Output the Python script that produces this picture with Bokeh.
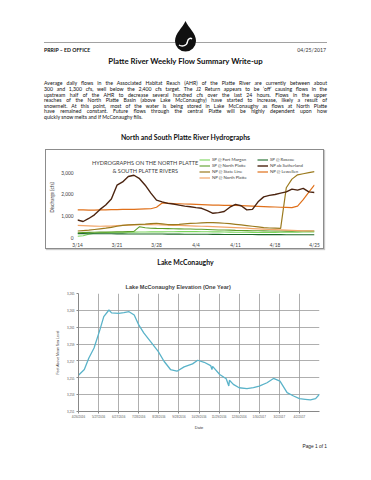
import pandas as pd
from bokeh.plotting import figure
from bokeh.models import (Div, Range1d, FixedTicker, NumeralTickFormatter, Legend,
                          LegendItem, Label, Spacer)
from bokeh.layouts import column, row
from bokeh.embed import file_html
from bokeh.resources import INLINE

# ---------------- data: hydrographs ----------------
hydro_dates = ["3/14", "3/15", "3/16", "3/17", "3/18", "3/19", "3/20", "3/21", "3/22", "3/23",
               "3/24", "3/25", "3/26", "3/27", "3/28", "3/29", "3/30", "3/31", "4/1", "4/2",
               "4/3", "4/4", "4/5", "4/6", "4/7", "4/8", "4/9", "4/10", "4/11", "4/12",
               "4/13", "4/14", "4/15", "4/16", "4/17", "4/18", "4/19", "4/20", "4/21", "4/22",
               "4/23", "4/24", "4/25"]
hydro_ticks = ["3/14", "3/21", "3/28", "4/4", "4/11", "4/18", "4/25"]
hydro_y_ticks = [0, 1000, 2000, 3000]

sp_fort_morgan = [60, 80, 150, 200, 220, 230, 235, 240, 245, 250,
                  250, 255, 255, 260, 260, 260, 265, 265, 270, 270,
                  270, 270, 265, 265, 260, 260, 255, 250, 245, 240,
                  240, 235, 230, 230, 230, 235, 240, 245, 250, 250,
                  255, 260, 260]
sp_roscoe = [180, 178, 175, 175, 172, 170, 170, 168, 168, 165,
             165, 165, 162, 160, 160, 160, 158, 155, 155, 152,
             150, 150, 148, 148, 145, 145, 142, 140, 140, 140,
             138, 138, 135, 135, 135, 132, 132, 130, 130, 130,
             128, 128, 128]
sp_north_platte = [220, 230, 235, 240, 250, 250, 255, 260, 260, 270,
                   280, 500, 450, 430, 420, 415, 410, 405, 400, 395,
                   390, 385, 380, 370, 360, 350, 345, 340, 330, 325,
                   320, 315, 310, 305, 300, 300, 300, 295, 295, 300,
                   300, 300, 300]
np_ab_sutherland = [810, 740, 880, 1050, 1300, 1500, 1780, 2420, 2570, 2820,
                    2880, 2720, 2420, 2050, 1730, 1650, 1580, 1550, 1500, 1450,
                    1420, 1380, 1350, 1240, 1120, 1150, 1200, 1400, 1530, 1470,
                    1280, 1300, 1650, 1880, 1950, 1990, 2050, 2110, 2240, 2190,
                    2270, 2110, 2080]
np_state_line = [300, 320, 340, 370, 400, 430, 470, 520, 560, 580,
                 600, 610, 620, 640, 660, 630, 600, 600, 610, 630,
                 650, 660, 680, 690, 690, 680, 660, 640, 610, 580,
                 550, 520, 490, 460, 440, 430, 420, 2300, 2700, 2900,
                 2950, 3000, 3050]
np_lewellen = [1280, 1280, 1270, 1270, 1280, 1280, 1290, 1290, 1300, 1300,
               1300, 1310, 1320, 1330, 1400, 1600, 1590, 1570, 1560, 1550,
               1540, 1530, 1520, 1510, 1500, 1500, 1490, 1490, 1480, 1470,
               1460, 1450, 1440, 1430, 1420, 1410, 1400, 1390, 1380, 1450,
               1750, 2100, 2430]
np_north_platte = [560, 550, 540, 530, 520, 525, 530, 545, 560, 570,
                   580, 590, 600, 600, 590, 580, 570, 565, 560, 550,
                   540, 530, 520, 510, 500, 490, 480, 470, 460, 445,
                   430, 415, 400, 385, 370, 360, 350, 340, 330, 320,
                   310, 305, 300]

# ---------------- data: Lake McConaughy ----------------
mc_dates = ["2016-04-26", "2016-05-05", "2016-05-12", "2016-05-20", "2016-05-29",
            "2016-06-04", "2016-06-12", "2016-06-16", "2016-06-27", "2016-07-05",
            "2016-07-13", "2016-07-21", "2016-07-28", "2016-08-05", "2016-08-15",
            "2016-08-27", "2016-09-05", "2016-09-15", "2016-09-25", "2016-10-06",
            "2016-10-19", "2016-10-27", "2016-11-06", "2016-11-16", "2016-11-18",
            "2016-11-19", "2016-11-30", "2016-12-10", "2016-12-14", "2016-12-15",
            "2016-12-21", "2016-12-30", "2017-01-11", "2017-01-21", "2017-01-30",
            "2017-02-11", "2017-02-21", "2017-03-03", "2017-03-14", "2017-03-24",
            "2017-04-02", "2017-04-11", "2017-04-19", "2017-04-27", "2017-05-03"]
mc_elev = [3255.31, 3255.98, 3257.35, 3258.53, 3260.69,
           3262.25, 3263.04, 3262.70, 3262.65, 3262.73,
           3262.84, 3262.45, 3261.27, 3260.29, 3259.31,
           3258.14, 3256.96, 3255.98, 3255.78, 3256.29,
           3256.65, 3257.08, 3256.84, 3256.45, 3255.98,
           3256.35, 3255.39, 3254.88, 3254.02, 3254.70,
           3254.22, 3253.82, 3253.71, 3253.82, 3254.02,
           3254.41, 3254.92, 3254.61, 3253.24, 3252.84,
           3252.53, 3252.45, 3252.37, 3252.53, 3253.04]
mc_tick_labels = ["4/26/2016", "5/27/2016", "6/27/2016", "7/28/2016", "8/28/2016",
                  "9/28/2016", "10/29/2016", "11/29/2016", "12/30/2016", "1/30/2017",
                  "3/2/2017", "4/2/2017"]
mc_y_ticks = [3251, 3253, 3255, 3257, 3259, 3261, 3263, 3265]
mc_start = "2016-04-26"
mc_end = "2017-05-03"

FONT = "Lato"

# ---------------- hydrograph figure ----------------
hx = list(range(len(hydro_dates)))
p1 = figure(width=279, height=100, x_range=Range1d(0, len(hydro_dates) - 1),
            y_range=Range1d(0, 3700), output_backend="svg", toolbar_location=None,
            title=None,
            min_border_left=30, min_border_right=11, min_border_top=7, min_border_bottom=13)
p1.styles = {"border": "1px solid #8c8c8c", "box-shadow": "1px 1px 1px #c8c8c8"}
p1.xgrid.visible = False
p1.ygrid.visible = False
p1.outline_line_color = None
for ax in (p1.xaxis[0], p1.yaxis[0]):
    ax.axis_line_color = None
    ax.major_tick_line_color = None
    ax.minor_tick_line_color = None
    ax.major_tick_out = 0
    ax.major_tick_in = 0
    ax.minor_tick_out = 0
    ax.minor_tick_in = 0
    ax.major_label_text_font = FONT
    ax.major_label_text_font_size = "4.8px"
    ax.major_label_text_color = "#404040"
    ax.major_label_standoff = 4
p1.xaxis.ticker = FixedTicker(ticks=[hydro_dates.index(t) for t in hydro_ticks])
p1.xaxis.major_label_overrides = {hydro_dates.index(t): t for t in hydro_ticks}
p1.yaxis.ticker = FixedTicker(ticks=hydro_y_ticks)
p1.yaxis.formatter = NumeralTickFormatter(format="0,0")
p1.yaxis.axis_label = "Discharge (cfs)"
p1.yaxis.axis_label_text_font = FONT
p1.yaxis.axis_label_text_font_size = "4.8px"
p1.yaxis.axis_label_text_font_style = "normal"
p1.yaxis.axis_label_text_color = "#404040"
p1.yaxis.axis_label_standoff = 3

series = [
    ("SP @ Fort Morgan", sp_fort_morgan, "#7ad65c", 1.1),
    ("SP @ Roscoe", sp_roscoe, "#1c6a28", 1.1),
    ("SP @ North Platte", sp_north_platte, "#5c9e2a", 1.1),
    ("NP @ North Platte", np_north_platte, "#f2a66a", 1.2),
    ("NP @ State Line", np_state_line, "#9b7a1e", 1.2),
    ("NP @ Lewellen", np_lewellen, "#e0701a", 1.2),
    ("NP ab Sutherland", np_ab_sutherland, "#4b2410", 1.4),
]
rends = {}
for name, vals, col, w in series:
    rends[name] = p1.line(hx, vals, line_color=col, line_width=w)

legend_order = ["SP @ Fort Morgan", "SP @ North Platte", "NP @ State Line", "NP @ North Platte",
                "SP @ Roscoe", "NP ab Sutherland", "NP @ Lewellen"]
legend = Legend(items=[LegendItem(label=n, renderers=[rends[n]]) for n in legend_order],
                location="top_right", orientation="vertical", nrows=4,
                label_text_font=FONT, label_text_font_size="4.3px", label_text_color="#404040",
                label_height=5, glyph_height=5, glyph_width=11, label_width=44,
                spacing=1, padding=0, margin=0, label_standoff=2,
                background_fill_alpha=0, border_line_color=None)
p1.add_layout(legend)

p1.add_layout(Label(x=12, y=3470, text="HYDROGRAPHS ON THE NORTH PLATTE",
                    text_align="center", text_baseline="middle", text_font=FONT,
                    text_font_size="5.6px", text_color="#404040"))
p1.add_layout(Label(x=12, y=3100, text="& SOUTH PLATTE RIVERS",
                    text_align="center", text_baseline="middle", text_font=FONT,
                    text_font_size="5.6px", text_color="#404040"))

# ---------------- Lake McConaughy figure ----------------
start = pd.Timestamp(mc_start)
mc_x = [(pd.Timestamp(d) - start).days for d in mc_dates]
mc_tick_pos = [(pd.to_datetime(t, format="%m/%d/%Y") - start).days for t in mc_tick_labels]
mc_xend = (pd.Timestamp(mc_end) - start).days

p2 = figure(width=355, height=158, x_range=Range1d(0, mc_xend),
            y_range=Range1d(mc_y_ticks[0], mc_y_ticks[-1]),
            output_backend="svg", toolbar_location=None,
            min_border_left=70, min_border_right=44, min_border_top=19, min_border_bottom=20,
            title="Lake McConaughy Elevation (One Year)")
p2.title.text_font = "Liberation Sans"
p2.title.text_font_size = "5.6px"
p2.title.text_font_style = "bold"
p2.title.align = "left"
p2.title.offset = 47
p2.title.standoff = 7
p2.outline_line_color = None
p2.xaxis.ticker = FixedTicker(ticks=mc_tick_pos)
p2.xaxis.major_label_overrides = {pos: lab for pos, lab in zip(mc_tick_pos, mc_tick_labels)}
p2.yaxis.ticker = FixedTicker(ticks=mc_y_ticks)
p2.yaxis.formatter = NumeralTickFormatter(format="0,0")
p2.xgrid.ticker = FixedTicker(ticks=mc_tick_pos)
for g in (p2.xgrid[0], p2.ygrid[0]):
    g.grid_line_color = "#9a9a9a"
    g.grid_line_width = 0.8
for ax in (p2.xaxis[0], p2.yaxis[0]):
    ax.axis_line_color = "#888888"
    ax.major_tick_line_color = "#888888"
    ax.major_tick_in = 0
    ax.major_tick_out = 2
    ax.minor_tick_line_color = None
    ax.minor_tick_out = 0
    ax.minor_tick_in = 0
    ax.major_label_text_font = "Liberation Sans"
    ax.major_label_text_font_size = "3px"
    ax.major_label_text_color = "#555555"
    ax.major_label_standoff = 2
    ax.axis_label_text_font = "Liberation Sans"
    ax.axis_label_text_font_style = "normal"
    ax.axis_label_text_color = "#333333"
p2.xaxis.axis_label = "Date"
p2.xaxis.axis_label_text_font_size = "4px"
p2.xaxis.axis_label_standoff = 3
p2.yaxis.axis_label = "Feet Above Mean Sea Level"
p2.yaxis.axis_label_text_font_size = "3.5px"
p2.yaxis.axis_label_standoff = 4
p2.line(mc_x, mc_elev, line_color="#5ab3c9", line_width=1.3)

# ---------------- text blocks ----------------
para_lines = [
    "Average daily flows in the Associated Habitat Reach (AHR) of the Platte River are currently between about",
    "300 and 1,300 cfs, well below the 2,400 cfs target. The J2 Return appears to be \u2018off\u2019 causing flows in the",
    "upstream half of the AHR to decrease several hundred cfs over the last 24 hours. Flows in the upper",
    "reaches of the North Platte Basin (above Lake McConaughy) have started to increase, likely a result of",
    "snowmelt. At this point, most of the water is being stored in Lake McConaughy as flows at North Platte",
    "have remained constant. Future flows through the central Platte will be highly dependent upon how",
    "quickly snow melts and if McConaughy fills.",
]
para_html = ""
for i, ln in enumerate(para_lines):
    last = "left" if i == len(para_lines) - 1 else "justify"
    para_html += (f'<div style="text-align:justify;text-align-last:{last};white-space:nowrap;'
                  f'height:5.67px;line-height:5.67px;">{ln}</div>')

header_html = f"""
<div style="position:relative;width:355px;height:141px;font-family:Lato,sans-serif;color:#111;">
<svg width="355" height="60" style="position:absolute;left:0;top:0;">
  <line x1="36" y1="34.5" x2="319" y2="34.5" stroke="#8a8a8a" stroke-width="0.8"/>
  <path d="M177.5,13 C180.5,20 188,25 188,33 A10,10 0 1,1 167,33 C167,25 174.5,20 177.5,13 Z" fill="#111"/>
  <path d="M171,37 C174,39 179,38 179.5,33.5 C180,30.5 182.5,29.5 184,31" stroke="#fff" stroke-width="1.4" fill="none"/>
</svg>
<div style="position:absolute;left:36px;top:39px;font-size:5.2px;font-weight:bold;line-height:6px;">PRRIP \u2013 ED OFFICE</div>
<div style="position:absolute;right:37px;top:39px;font-size:5.2px;line-height:6px;color:#333;">04/25/2017</div>
<div style="position:absolute;left:0;width:355px;top:49px;text-align:center;font-size:7.8px;font-weight:bold;line-height:8px;">Platte River Weekly Flow Summary Write-up</div>
<div style="position:absolute;left:36px;width:283px;top:73.2px;font-size:5.2px;">{para_html}</div>
<div style="position:absolute;left:0;width:355px;top:125px;text-align:center;font-size:6.9px;font-weight:bold;line-height:8px;">North and South Platte River Hydrographs</div>
</div>
"""
header = Div(text=header_html, width=355, height=141, margin=0)

lake_div = Div(text='<div style="position:relative;width:355px;height:25px;font-family:Lato,sans-serif;">'
                    '<div style="position:absolute;left:0;width:355px;top:9px;text-align:center;'
                    'font-size:6.9px;font-weight:bold;line-height:8px;color:#111;">Lake McConaughy</div></div>',
               width=355, height=25, margin=0)

footer = Div(text='<div style="position:relative;width:355px;height:30px;font-family:\'Liberation Sans\',sans-serif;">'
                  '<div style="position:absolute;right:36px;top:12px;font-size:4.8px;line-height:6px;color:#222;">'
                  'Page 1 of 1</div></div>',
             width=355, height=30, margin=0)

inner = column(header,
               row(Spacer(width=37, height=100), p1, spacing=0),
               lake_div, p2, footer, spacing=0)
page = column(Spacer(width=355, height=8),
              row(Spacer(width=8, height=10), inner, spacing=0),
              spacing=0)
open("out.html", "w").write(file_html(page, INLINE))
